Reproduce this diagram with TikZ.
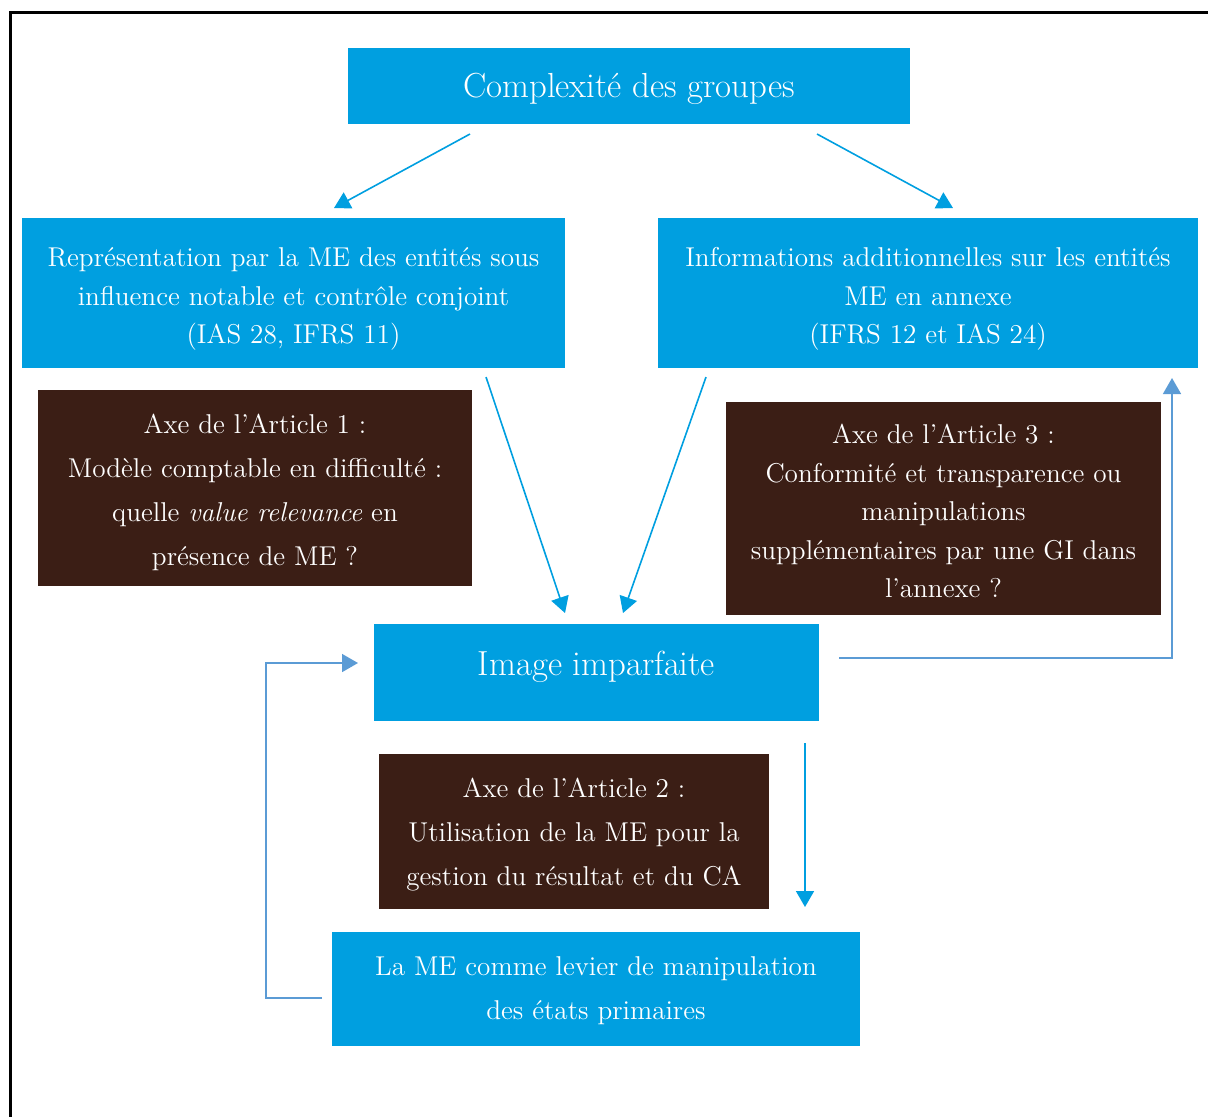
\documentclass[tikz,border=0pt]{standalone}
\usetikzlibrary{arrows.meta}
\definecolor{meblue}{HTML}{009FE0}
\definecolor{mebrown}{HTML}{3B1E15}
\definecolor{loopblue}{HTML}{5B9BD5}
\tikzset{
  bluebox/.style={fill=meblue,inner sep=0pt},
  brownbox/.style={fill=mebrown,inner sep=0pt},
  txt/.style={text=white,align=center,inner sep=0pt},
  flow/.style={meblue,line width=0.8pt,-{Triangle[length=8pt,width=9pt]}},
  loopflow/.style={loopblue,line width=0.8pt,-{Triangle[length=8pt,width=9pt]}},
  wide/.style={font={\fontsize{13.6pt}{19.25pt}\selectfont}},
  tall/.style={font={\fontsize{13.6pt}{22pt}\selectfont}},
  big/.style={font={\fontsize{17.4pt}{21pt}\selectfont}}
}
\begin{document}
\begin{tikzpicture}[x=0.5pt,y=-0.5pt]
  \useasboundingbox (0,0) rectangle (1208,1116);
  \draw[line width=1.5pt] (10.5,1200) -- (10.5,12.5) -- (1260,12.5);
  % the three blue boxes on top
  \node[bluebox,minimum width=281pt,minimum height=38pt,
    label={[txt,big,yshift=-1.5pt]center:Complexit\'e des groupes}] (groupes) at (629,86) {};
  \node[bluebox,minimum width=271.5pt,minimum height=75pt,
    label={[txt,wide,yshift=-3pt]center:{Repr\'esentation par la ME des entit\'es sous\\influence notable et contr\^ole conjoint\\(IAS 28, IFRS 11)}}] (repr) at (293.5,293) {};
  \node[bluebox,minimum width=270pt,minimum height=75pt,
    label={[txt,wide,yshift=-3pt]center:{Informations additionnelles sur les entit\'es\\ME en annexe\\(IFRS 12 et IAS 24)}}] (infos) at (928,293) {};
  % the axes of the articles
  \node[brownbox,minimum width=217pt,minimum height=98pt,
    label={[txt,tall,yshift=-2pt]center:{Axe de l'Article 1 :\\Mod\`ele comptable en difficult\'e :\\quelle \emph{value relevance} en\\pr\'esence de ME ?}}] (art1) at (255,488) {};
  \node[brownbox,minimum width=217.5pt,minimum height=106.5pt,
    label={[txt,wide,yshift=-1.25pt]center:{Axe de l'Article 3 :\\Conformit\'e et transparence ou\\manipulations\\suppl\'ementaires par une GI dans\\l'annexe ?}}] (art3) at (943.5,508.5) {};
  \node[bluebox,minimum width=222.5pt,minimum height=48.5pt,
    label={[txt,big,yshift=3pt]center:Image imparfaite}] (image) at (596.5,672.5) {};
  \node[brownbox,minimum width=195pt,minimum height=77.5pt,
    label={[txt,tall,yshift=-1.75pt]center:{Axe de l'Article 2 :\\Utilisation de la ME pour la\\gestion du r\'esultat et du CA}}] (art2) at (574,831.5) {};
  \node[bluebox,minimum width=264pt,minimum height=57pt,
    label={[txt,tall,yshift=-1pt]center:{La ME comme levier de manipulation\\des \'etats primaires}}] (levier) at (596,989) {};
  % free ends of the arrows
  \coordinate (g1) at (470,134);  \coordinate (r1) at (334,208);
  \coordinate (g2) at (817,134);  \coordinate (i1) at (953,208);
  \coordinate (r2) at (486,377);  \coordinate (m1) at (565,613);
  \coordinate (i2) at (706,377);  \coordinate (m2) at (623,613);
  \coordinate (m3) at (805,743);  \coordinate (l1) at (805,907);
  \coordinate (m4) at (839,658);  \coordinate (i3) at (1172,378);
  \coordinate (l2) at (322,998);  \coordinate (m5) at (358,663);
  \draw[flow] (g1) -- (r1);
  \draw[flow] (g2) -- (i1);
  \draw[flow] (r2) -- (m1);
  \draw[flow] (i2) -- (m2);
  \draw[flow] (m3) -- (l1);
  \draw[loopflow] (m4) -| (i3);
  \draw[loopflow] (l2) -- (266,998) |- (m5);
\end{tikzpicture}
\end{document}
